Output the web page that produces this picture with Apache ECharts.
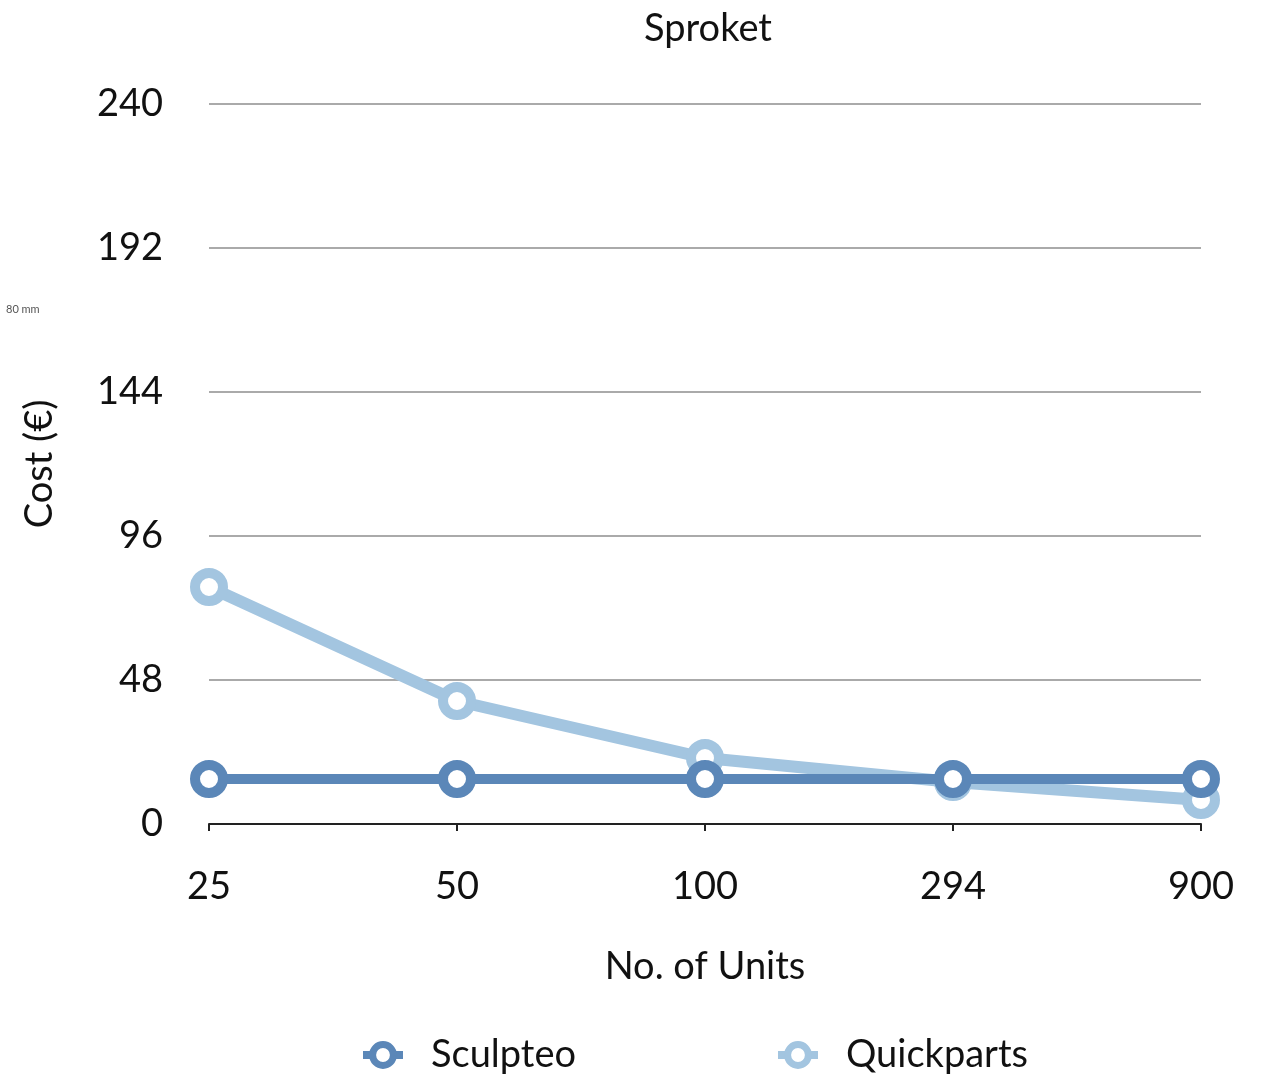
<!DOCTYPE html>
<html>
<head>
<meta charset="utf-8">
<script src="https://cdn.jsdelivr.net/npm/echarts@6/dist/echarts.min.js"></script>
<style>
  html, body { margin: 0; padding: 0; background: #fff; }
  #chart { width: 1262px; height: 1081px; }
</style>
</head>
<body>
<div id="chart"></div>
<script>
// data
var units = ['25', '50', '100', '294', '900'];
var sculpteo = [15, 15, 15, 15, 15];
var quickparts = [79, 41, 22, 14, 8];
var yTicks = [0, 48, 96, 144, 192, 240];

var font = 'Lato';
var chart = echarts.init(document.getElementById('chart'));

var option = {
  backgroundColor: '#fff',
  animation: false,
  title: {
    text: 'Sproket',
    left: 703,
    textAlign: 'center',
    top: 5,
    textStyle: { fontFamily: font, fontSize: 38, fontWeight: 'normal', color: '#111' }
  },
  legend: {
    bottom: 2,
    left: 354,
    itemWidth: 40,
    itemHeight: 26,
    itemGap: 198,
    data: ['Sculpteo', 'Quickparts'],
    itemStyle: { borderWidth: 7 },
    lineStyle: { width: 8 },
    textStyle: { fontFamily: font, fontSize: 38, color: '#111', padding: [0, 0, 0, 23] }
  },
  grid: { left: 209, right: 61, top: 104, bottom: 257 },
  xAxis: {
    type: 'category',
    data: units,
    boundaryGap: false,
    name: 'No. of Units',
    nameLocation: 'middle',
    nameGap: 124,
    nameTextStyle: { fontFamily: font, fontSize: 38, color: '#111' },
    axisLine: { lineStyle: { color: '#222', width: 2 } },
    axisTick: { show: true, length: 7, lineStyle: { color: '#222', width: 2 } },
    axisLabel: { fontFamily: font, fontSize: 38, color: '#111', margin: 44 },
    splitLine: { show: false }
  },
  yAxis: {
    type: 'value',
    min: yTicks[0],
    max: yTicks[yTicks.length - 1],
    interval: yTicks[1] - yTicks[0],
    name: 'Cost (€)',
    nameLocation: 'middle',
    nameGap: 150,
    nameTextStyle: { fontFamily: font, fontSize: 38, color: '#111' },
    axisLine: { show: false },
    axisTick: { show: false },
    axisLabel: { fontFamily: font, fontSize: 38, color: '#111', margin: 46 },
    splitLine: { lineStyle: { color: '#aaa', width: 2 } }
  },
  series: [
    {
      name: 'Sculpteo',
      type: 'line',
      data: sculpteo,
      z: 3,
      symbol: 'circle',
      symbolSize: 28,
      lineStyle: { color: '#5b87b8', width: 10 },
      itemStyle: { color: '#fff', borderColor: '#5b87b8', borderWidth: 10 }
    },
    {
      name: 'Quickparts',
      type: 'line',
      data: quickparts,
      z: 2,
      symbol: 'circle',
      symbolSize: 28,
      lineStyle: { color: '#a3c5e0', width: 12 },
      itemStyle: { color: '#fff', borderColor: '#a3c5e0', borderWidth: 10 }
    }
  ],
  graphic: [
    {
      type: 'text',
      left: 6,
      top: 304,
      style: { text: '80 mm', fontFamily: font, fontSize: 11, fill: '#555' }
    }
  ]
};

chart.setOption(option);
</script>
</body>
</html>
